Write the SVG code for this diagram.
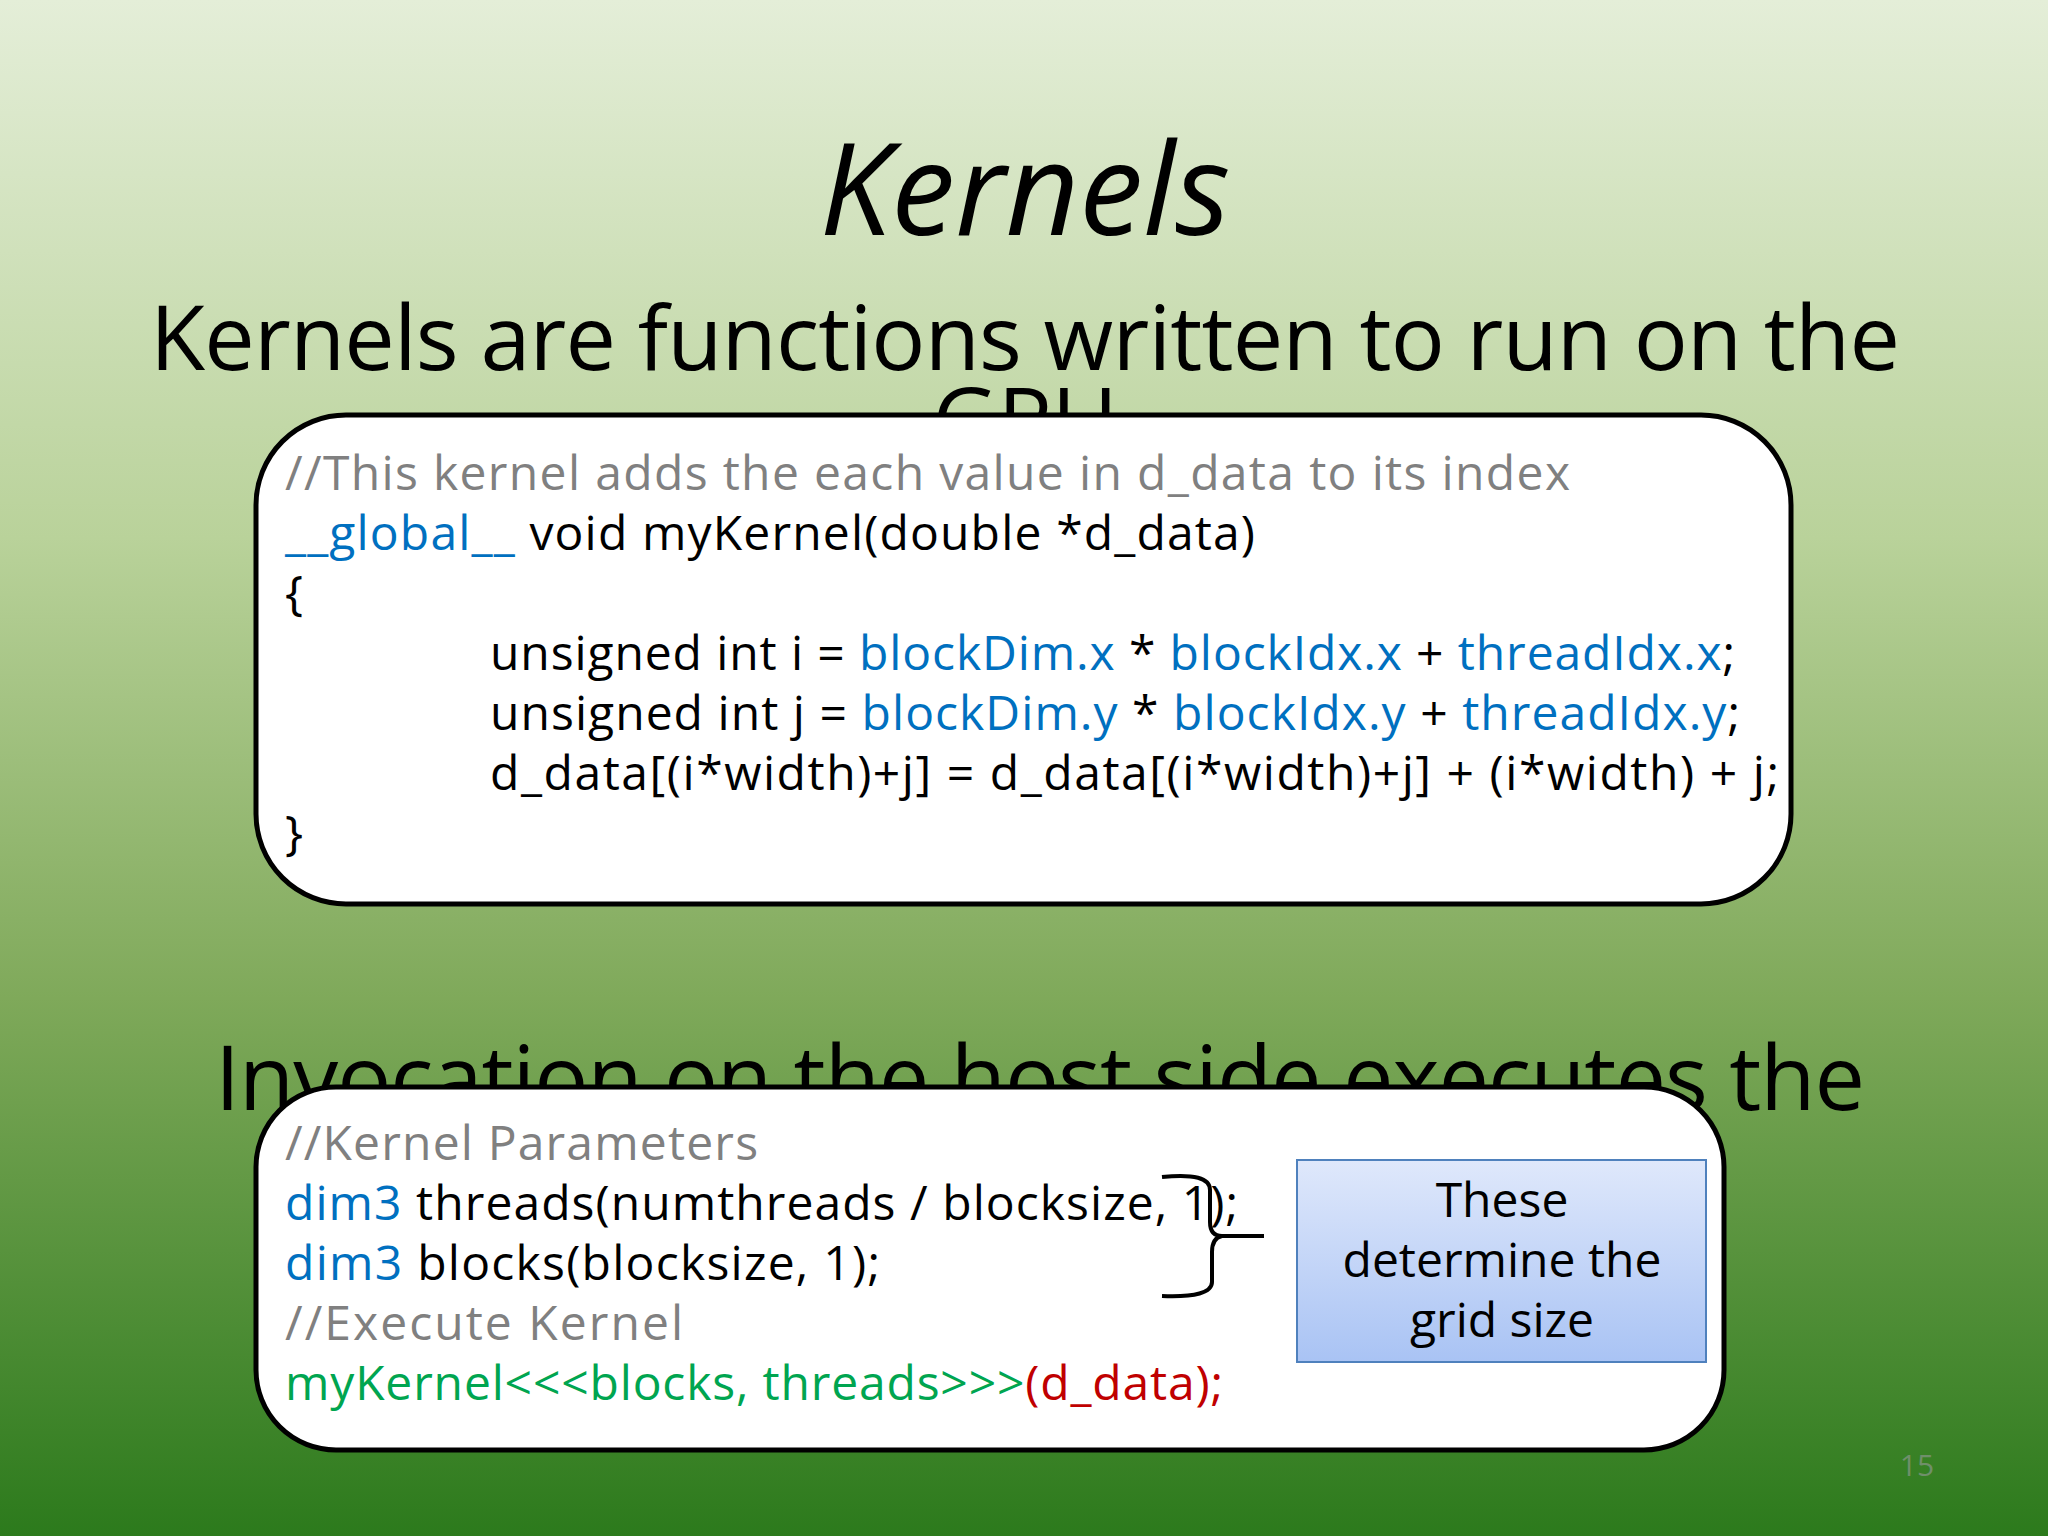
<svg xmlns="http://www.w3.org/2000/svg" width="2048" height="1536" viewBox="0 0 2048 1536">
<defs>
<linearGradient id="bg" x1="0" y1="0" x2="0" y2="1">
<stop offset="0" stop-color="#e4eed8"/>
<stop offset="0.35" stop-color="#b9d29a"/>
<stop offset="0.65" stop-color="#7fa95a"/>
<stop offset="1" stop-color="#2c7a1c"/>
</linearGradient>
<linearGradient id="bb" x1="0" y1="0" x2="0" y2="1">
<stop offset="0" stop-color="#dfe8fb"/>
<stop offset="1" stop-color="#a9c3f4"/>
</linearGradient>
<style>
.h{font-family:"Open Sans","Liberation Sans",sans-serif;fill:#000}
.c{font-family:"Open Sans","Liberation Sans",sans-serif;font-size:48px;fill:#000}
.b{fill:#0070c0}.g{fill:#808080}.gr{fill:#00a550}.r{fill:#c00000}
.box{fill:#fff;stroke:#000;stroke-width:5}
</style>
</defs>
<rect width="2048" height="1536" fill="url(#bg)"/>
<text class="h" x="1025" y="235" font-size="128" font-style="italic" text-anchor="middle">Kernels</text>
<text class="h" x="1025" y="370" font-size="90" text-anchor="middle" textLength="1750">Kernels are functions written to run on the</text>
<text class="h" x="1025" y="452" font-size="90" text-anchor="middle">GPU</text>
<text class="h" x="1040" y="1110" font-size="90" text-anchor="middle" textLength="1650">Invocation on the host side executes the</text>
<g id="kernel-box">
<rect class="box" x="256" y="415" width="1535" height="489" rx="90"/>
<text class="c g" x="285" y="490" textLength="1285">//This kernel adds the each value in d_data to its index</text>
<text class="c" x="285" y="550" textLength="970"><tspan class="b">__global__</tspan> void myKernel(double *d_data)</text>
<text class="c" x="285" y="610">{</text>
<text class="c" x="490" y="670" textLength="1245">unsigned int i = <tspan class="b">blockDim.x</tspan> * <tspan class="b">blockIdx.x</tspan> + <tspan class="b">threadIdx.x</tspan>;</text>
<text class="c" x="490" y="730" textLength="1250">unsigned int j = <tspan class="b">blockDim.y</tspan> * <tspan class="b">blockIdx.y</tspan> + <tspan class="b">threadIdx.y</tspan>;</text>
<text class="c" x="490" y="790" textLength="1289">d_data[(i*width)+j] = d_data[(i*width)+j] + (i*width) + j;</text>
<text class="c" x="285" y="850">}</text>
</g>
<g id="invoke-box">
<rect class="box" x="256" y="1087" width="1468" height="363" rx="80"/>
<text class="c g" x="285" y="1160" textLength="473">//Kernel Parameters</text>
<text class="c" x="285" y="1220" textLength="953"><tspan class="b">dim3</tspan> threads(numthreads / blocksize, 1);</text>
<text class="c" x="285" y="1280" textLength="595"><tspan class="b">dim3</tspan> blocks(blocksize, 1);</text>
<text class="c g" x="285" y="1340" textLength="398">//Execute Kernel</text>
<text class="c" x="285" y="1400" textLength="938"><tspan class="gr">myKernel&lt;&lt;&lt;blocks, threads&gt;&gt;&gt;</tspan><tspan class="r">(d_data);</tspan></text>
</g>
<g id="connectors">
<path d="M1162 1177 Q1210 1172 1210 1190 L1210 1222 Q1210 1236 1222 1236 L1264 1236 M1222 1236 Q1212 1238 1212 1252 L1212 1282 Q1212 1298 1162 1296" fill="none" stroke="#000" stroke-width="4"/>
</g>
<g id="note">
<rect x="1297" y="1160" width="409" height="202" fill="url(#bb)" stroke="#4f81bd" stroke-width="2"/>
<text class="c" x="1502" y="1217" text-anchor="middle">These</text>
<text class="c" x="1502" y="1277" text-anchor="middle">determine the</text>
<text class="c" x="1502" y="1337" text-anchor="middle">grid size</text>
</g>
<text x="1917" y="1476" font-family="Open Sans, sans-serif" font-size="30" fill="#6f8f6a" text-anchor="middle">15</text>
</svg>
